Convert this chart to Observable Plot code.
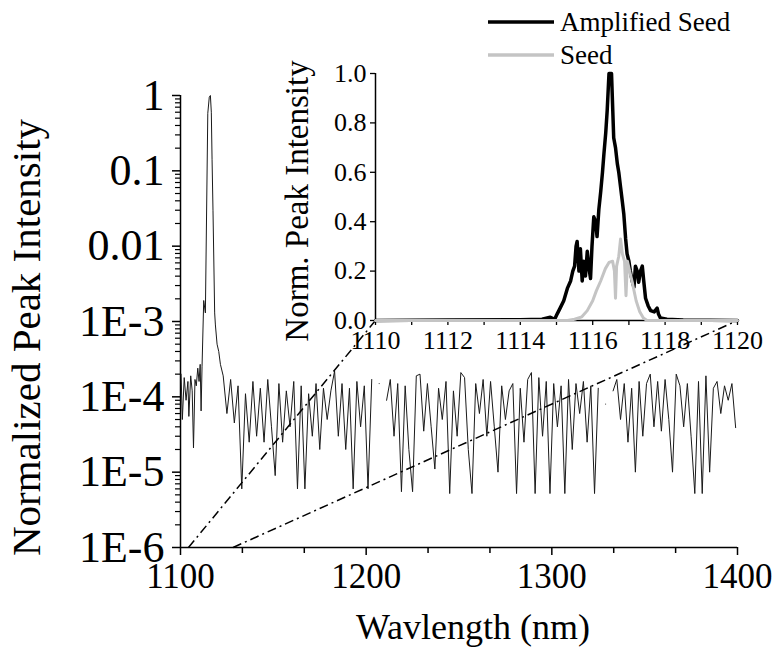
<!DOCTYPE html>
<html><head><meta charset="utf-8">
<script src="https://cdn.jsdelivr.net/npm/d3@7"></script>
<script src="https://cdn.jsdelivr.net/npm/@observablehq/plot@0.6"></script>
<style>
html,body{margin:0;padding:0;background:#fff;}
#wrap{position:relative;width:775px;height:651px;overflow:hidden;font-family:'Liberation Serif', serif;}
#wrap svg{position:absolute;left:0;top:0;}
</style></head><body>
<div id="wrap">
<svg id="legend" width="775" height="80" font-family="'Liberation Serif', serif">
  <line x1="488" x2="554" y1="22" y2="22" stroke="#000" stroke-width="3.5"></line>
  <text x="560" y="22" dy="0.35em" font-size="27" fill="#000">Amplified Seed</text>
  <line x1="488" x2="554" y1="55" y2="55" stroke="#c4c4c4" stroke-width="3.5"></line>
  <text x="560" y="55" dy="0.35em" font-size="27" fill="#000">Seed</text>
</svg>
</div>
<script>
// ---------- Main spectrum (log scale) ----------
const peakWl  = [1100.3, 1101, 1102, 1103, 1104, 1104.5, 1105.5, 1106.3, 1107, 1107.8, 1108.5, 1109.3, 1110, 1110.6, 1111.1, 1111.6, 1112.5, 1113.4, 1114.7, 1115.5, 1116.1, 1116.6, 1117.0, 1117.5, 1118.4, 1118.8, 1119.7, 1120.6, 1121.5];
const peakVal = [2.0e-4, 5e-5, 1.8e-4, 9e-5, 1.6e-4, 5.5e-5, 1.9e-4, 1.2e-4, 2.1e-5, 1.7e-4, 1.4e-4, 2.4e-4, 1.6e-4, 2.7e-4, 6.5e-5, 2.5e-4, 1.9e-3, 1.3e-3, 0.58, 0.95, 1.0, 0.6, 0.14, 0.03, 1.3e-3, 9e-4, 5e-4, 4e-4, 2.7e-4];
const noiseStart = 1123, noiseStep = 2;
const noiseVal = [
  1.9e-4, 6e-5, 1.7e-4, 4.5e-5, 1.4e-4, 6e-6, 1.1e-4, 2.5e-5, 1.6e-4, 3e-5,
  1.3e-4, 2.5e-5, 1.7e-4, 4e-5, 9e-6, 1.5e-4, 2.5e-5, 1.2e-4, 4e-5, 1.6e-4,
  6e-6, 1.4e-4, 6e-6, 1.1e-4, 3e-5, 1.5e-4, 2e-5, 1.3e-4, 5e-5, 1.2e-4,
  2.2e-4, 3e-5, 1.5e-4, 2e-5, 1.3e-4, 6e-6, 1.6e-4, 4e-5, 1.4e-4, 6e-6,
  1.7e-4, null, 1.5e-4, null, 9e-5, 1.7e-4, 3e-5, 1.5e-4, 5.5e-6, 1.4e-4,
  2e-5, 5.5e-6, 1.9e-4, 2e-4, 3.5e-5, 1.5e-4, 4e-5, 1.1e-5, 1.3e-4, 5e-5,
  1.6e-4, 5.2e-6, 1.2e-4, 3e-5, 2.1e-4, 1.8e-4, 2e-5, 5.2e-6, 1.5e-4, 6e-5,
  1.7e-4, 3e-5, 1.6e-4, 4e-5, 1e-5, 1.4e-4, 5e-5, 1.2e-4, 1.5e-4, 5.2e-6,
  1.3e-4, 2.5e-5, 1.7e-4, 2.1e-4, 5.2e-6, 1.8e-4, 3e-5, 1.6e-4, 5.2e-6, 1.5e-4,
  4e-5, 1.4e-4, 5.2e-6, 1.7e-4, 2e-5, 1.5e-4, 6e-5, 1.6e-4, 2.5e-5, 1.4e-4,
  5.2e-6, 1.3e-4, null, 8e-5, null, 1.2e-4, 1.7e-4, 5e-5, 1.5e-4, 2.5e-5,
  1.3e-4, 1e-5, 1.6e-4, 3e-5, 1.5e-4, 2e-4, 4e-5, 1.6e-4, 3.5e-5, 1.7e-4,
  5e-5, 1e-5, 2e-4, 1.4e-4, 4e-5, 1.5e-4, 3e-5, 5.2e-6, 1.6e-4, 5.2e-6,
  1.9e-4, 1e-5, 1.3e-4, 1.6e-4, 6e-5, 1.4e-4, 9e-5, 1.5e-4, 3.9e-5
];
const yMajor = [1e-6, 1e-5, 1e-4, 1e-3, 0.01, 0.1, 1];
const yMajorLabels = ["1E-6", "1E-5", "1E-4", "1E-3", "0.01", "0.1", "1"];
const yMinorMult = [2, 3, 4, 5, 6, 7, 8, 9];
const xMajor = [1100, 1200, 1300, 1400];
const xMinor = [1133.33, 1166.67, 1233.33, 1266.67, 1333.33, 1366.67];
const zoomLinks = [
  {x1: 1104.3, y1: 1e-6, x2: 1205, y2: 1.03e-3},
  {x1: 1128.3, y1: 1e-6, x2: 1400, y2: 1.03e-3}
];

// ---------- Inset (linear) ----------
const ampWl  = [1110, 1112, 1114, 1114.6, 1114.83, 1114.95, 1115.02, 1115.1, 1115.2, 1115.3, 1115.39, 1115.45, 1115.5, 1115.54, 1115.57, 1115.62, 1115.66, 1115.71, 1115.75, 1115.8, 1115.85, 1115.89, 1115.94, 1115.98, 1116.03, 1116.08, 1116.12, 1116.17, 1116.22, 1116.27, 1116.31, 1116.36, 1116.4, 1116.45, 1116.52, 1116.58, 1116.63, 1116.68, 1116.72, 1116.77, 1116.82, 1116.86, 1116.91, 1116.95, 1117.0, 1117.04, 1117.09, 1117.14, 1117.18, 1117.23, 1117.27, 1117.32, 1117.37, 1117.41, 1117.46, 1117.53, 1117.6, 1117.7, 1117.78, 1117.82, 1117.87, 1118.05, 1118.5, 1120];
const ampVal = [0, 0.002, 0.003, 0.005, 0.013, 0.005, 0.027, 0.05, 0.08, 0.13, 0.16, 0.2, 0.22, 0.30, 0.32, 0.2, 0.29, 0.16, 0.24, 0.18, 0.28, 0.22, 0.17, 0.3, 0.42, 0.4, 0.34, 0.45, 0.52, 0.6, 0.675, 0.76, 0.85, 1.0, 1.0, 0.74, 0.7, 0.635, 0.6, 0.54, 0.48, 0.43, 0.33, 0.27, 0.24, 0.2, 0.16, 0.135, 0.22, 0.2, 0.155, 0.2, 0.22, 0.16, 0.09, 0.06, 0.04, 0.035, 0.05, 0.025, 0.01, 0.005, 0.002, 0];
const seedWl  = [1110, 1115.3, 1115.5, 1115.7, 1115.85, 1116.0, 1116.1, 1116.22, 1116.35, 1116.45, 1116.55, 1116.6, 1116.63, 1116.66, 1116.72, 1116.77, 1116.82, 1116.88, 1116.92, 1116.96, 1117.02, 1117.1, 1117.2, 1117.3, 1117.4, 1117.5, 1120];
const seedVal = [0, 0, 0.005, 0.015, 0.04, 0.08, 0.12, 0.16, 0.21, 0.235, 0.24, 0.2, 0.09, 0.22, 0.26, 0.33, 0.27, 0.24, 0.1, 0.24, 0.2, 0.15, 0.08, 0.035, 0.01, 0, 0];
const insetXMajor = [1110, 1112, 1114, 1116, 1118, 1120];
const insetXMinor = [1111, 1113, 1115, 1117, 1119];
const insetYTicks = [0, 0.2, 0.4, 0.6, 0.8, 1.0];

const FONT = "Liberation Serif";

const mainData = peakWl.map((wl, i) => ({wl, v: peakVal[i]}))
  .concat(noiseVal.map((v, i) => ({wl: noiseStart + i * noiseStep, v})));
const yMinor = yMajor.slice(0, -1).flatMap(d => yMinorMult.map(m => d * m));
const ampData = ampWl.map((wl, i) => ({wl, v: ampVal[i]}));
const seedData = seedWl.map((wl, i) => ({wl, v: seedVal[i]}));

const main = Plot.plot({
  width: 775, height: 651,
  marginLeft: 180, marginRight: 38, marginTop: 95, marginBottom: 104,
  style: {fontFamily: FONT, background: "transparent", color: "#000"},
  x: {domain: [1100, 1400]},
  y: {type: "log", domain: [1e-6, 1]},
  marks: [
    Plot.axisX({ticks: xMajor, tickSize: 8, tickPadding: 8, fontSize: 35, fontFamily: FONT, strokeWidth: 1.5, tickFormat: d => String(d), label: null}),
    Plot.axisX({ticks: xMinor, tickSize: 6, strokeWidth: 1.5, tickFormat: () => "", label: null}),
    Plot.axisY({ticks: yMajor, tickSize: 8, tickPadding: 8, fontSize: 44, fontFamily: FONT, strokeWidth: 1.5, tickFormat: d => yMajorLabels[yMajor.indexOf(d)], label: null}),
    Plot.axisY({ticks: yMinor, tickSize: 5, strokeWidth: 1.2, tickFormat: () => "", label: null}),
    Plot.ruleX([1100], {strokeWidth: 1.5}),
    Plot.ruleY([1e-6], {strokeWidth: 1.5}),
    Plot.line(mainData, {x: "wl", y: "v", stroke: "#1a1a1a", strokeWidth: 1}),
    Plot.link(zoomLinks, {x1: "x1", y1: "y1", x2: "x2", y2: "y2", stroke: "#000", strokeWidth: 1.5, strokeDasharray: "9,4,2,4"}),
    Plot.text(["Wavlength (nm)"], {frameAnchor: "bottom", dx: 14, dy: 80, fontSize: 36, fontFamily: FONT, lineAnchor: "middle"}),
    Plot.text(["Normalized Peak Intensity"], {frameAnchor: "left", textAnchor: "middle", lineAnchor: "middle", rotate: -90, dx: -154, dy: 16, fontSize: 41, fontFamily: FONT})
  ]
});

const inset = Plot.plot({
  width: 775, height: 651,
  marginLeft: 375, marginRight: 38, marginTop: 73, marginBottom: 331,
  style: {fontFamily: FONT, background: "transparent", color: "#000"},
  x: {domain: [1110, 1120]},
  y: {domain: [0, 1]},
  marks: [
    Plot.axisX({ticks: insetXMajor, tickSize: 5, tickPadding: 5, fontSize: 26, fontFamily: FONT, strokeWidth: 1.3, tickFormat: d => String(d), label: null}),
    Plot.axisX({ticks: insetXMinor, tickSize: 5, strokeWidth: 1.3, tickFormat: () => "", label: null}),
    Plot.axisY({ticks: insetYTicks, tickSize: 5, tickPadding: 4, fontSize: 26, fontFamily: FONT, strokeWidth: 1.3, tickFormat: d3.format(".1f"), label: null}),
    Plot.ruleX([1110], {strokeWidth: 1.5}),
    Plot.ruleY([0], {strokeWidth: 1.5}),
    Plot.line(ampData, {x: "wl", y: "v", stroke: "#000", strokeWidth: 3.5, strokeLinejoin: "round"}),
    Plot.line(seedData, {x: "wl", y: "v", stroke: "#c4c4c4", strokeWidth: 3, strokeLinejoin: "round"}),
    Plot.text(["Norm. Peak Intensity"], {frameAnchor: "left", textAnchor: "middle", lineAnchor: "middle", rotate: -90, dx: -78, dy: 4, fontSize: 33, fontFamily: FONT})
  ]
});

const wrap = document.getElementById("wrap");
const legend = document.getElementById("legend");
wrap.insertBefore(main, legend);
wrap.insertBefore(inset, legend);
</script></body></html>
